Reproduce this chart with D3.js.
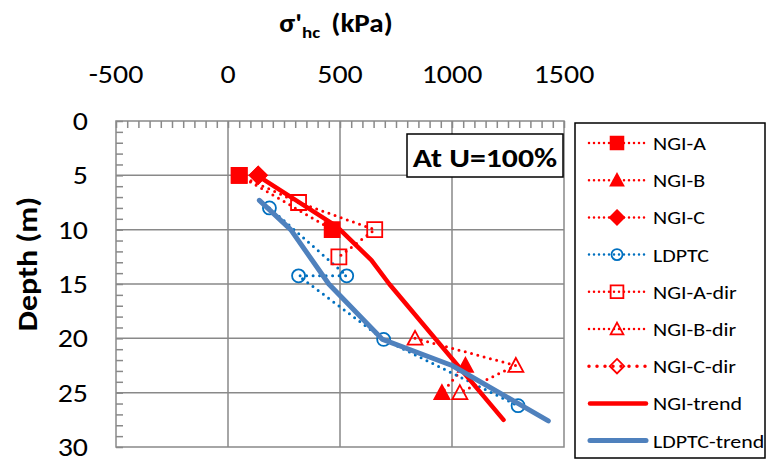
<!DOCTYPE html>
<html><head><meta charset="utf-8">
<script src="https://cdn.jsdelivr.net/npm/d3@7"></script>
<style>
html,body{margin:0;padding:0;background:#fff;}
text{font-family:Carlito,Lato,"Open Sans",sans-serif;}
</style></head>
<body>
<svg id="chart" width="766" height="464"></svg>
<script>
// ---- data (kPa, depth m) ----
const xTicks = [-500, 0, 500, 1000, 1500];
const yTicks = [0, 5, 10, 15, 20, 25, 30];
const seriesNames = ["NGI-A","NGI-B","NGI-C","LDPTC","NGI-A-dir","NGI-B-dir","NGI-C-dir","NGI-trend","LDPTC-trend"];
const ngiA = [[50,5],[465,10]];
const ngiB = [[1060,22.5],[955,25]];
const ngiC = [[135,5]];
const ldptc = [[185,8],[530,14.25],[315,14.25],[695,20.1],[1295,26.2]];
const ngiADir = [[50,5],[315,7.5],[655,10],[495,12.5]];
const ngiBDir = [[835,20],[1285,22.5],[1035,25]];
const ngiCDir = [[135,5]];
const ngiTrend = [[130,5],[485,9.7],[640,12.8],[720,15],[1230,27.5]];
const ldptcTrend = [[140,7.3],[280,10],[450,15],[690,20.1],[1000,22.5],[1430,27.6]];

const RED = "#ff0000", BLUE = "#0070c0", STEEL = "#4f81bd", GRID = "#898989";

const svg = d3.select("#chart");
const x = d3.scaleLinear().domain([-500,1500]).range([116,564]);
const y = d3.scaleLinear().domain([0,30]).range([121,447]);

// text helper with horizontal stretch
function txt(parent, px, py, str, size, anchor, weight, sx){
  return parent.append("text").attr("transform",`translate(${px},${py}) scale(${sx||1},1)`)
    .attr("text-anchor",anchor||"start").attr("font-size",size).attr("font-weight",weight||"normal").text(str);
}

// gridlines
const g = svg.append("g");
g.selectAll(".vg").data(xTicks.slice(1,-1)).enter().append("line")
  .attr("x1",d=>x(d)).attr("x2",d=>x(d)).attr("y1",y(0)).attr("y2",y(30))
  .attr("stroke",GRID).attr("stroke-width",1.5);
g.selectAll(".hg").data(yTicks.slice(1,-1)).enter().append("line")
  .attr("x1",x(-500)).attr("x2",x(1500)).attr("y1",d=>y(d)).attr("y2",d=>y(d))
  .attr("stroke",GRID).attr("stroke-width",1.5);

// axes (top x axis, left y axis) with inward minor ticks
const xMinor = d3.range(-500,1501,50);
const yMinor = d3.range(0,31,1);
const xAxis = d3.axisTop(x).tickValues(xMinor).tickSize(-7).tickFormat("");
const yAxis = d3.axisLeft(y).tickValues(yMinor).tickSize(-7).tickFormat("");
const xa = svg.append("g").attr("transform",`translate(0,${y(0)})`).call(xAxis);
const ya = svg.append("g").attr("transform",`translate(${x(-500)},0)`).call(yAxis);
[xa,ya].forEach(a=>{a.selectAll("line").attr("stroke",GRID).attr("stroke-width",1.5);a.select(".domain").remove();});
svg.append("rect").attr("x",x(-500)).attr("y",y(0)).attr("width",x(1500)-x(-500)).attr("height",y(30)-y(0))
  .attr("fill","none").attr("stroke",GRID).attr("stroke-width",1.5);

// tick labels
xTicks.forEach(d=>txt(svg, x(d), 83, d, 26, "middle", "normal", 1.15));
yTicks.forEach(d=>txt(svg, 88, y(d)+9, d, 26, "end", "normal", 1.15));

// axis titles
const t = svg.append("text").attr("transform","translate(336,32) scale(1.12,1)").attr("text-anchor","middle")
  .attr("font-size",26).attr("font-weight","bold");
t.append("tspan").text("σ'");
t.append("tspan").attr("font-size",17).attr("dy",6).text("hc");
t.append("tspan").attr("dy",-6).attr("dx",10).text("(kPa)");
svg.append("text").attr("transform","translate(37,264) rotate(-90) scale(1.1,1)").attr("text-anchor","middle")
  .attr("font-size",29).attr("font-weight","bold").text("Depth (m)");

// marker drawing
function marker(sel, type, cx, cy, color, filled, scale){
  const s = scale||1;
  let p;
  if(type==="square"){const h=7.5*s;p=`M${cx-h},${cy-h}H${cx+h}V${cy+h}H${cx-h}Z`;}
  else if(type==="triangle"){const w=7.5*s,h=7.5*s;p=`M${cx},${cy-h}L${cx+w},${cy+h*0.85}L${cx-w},${cy+h*0.85}Z`;}
  else if(type==="diamond"){const h=8.5*s;p=`M${cx},${cy-h}L${cx+h},${cy}L${cx},${cy+h}L${cx-h},${cy}Z`;}
  if(type==="circle"){
    sel.append("circle").attr("cx",cx).attr("cy",cy).attr("r",6.5*s)
      .attr("fill",filled?color:"none").attr("stroke",color).attr("stroke-width",1.8);
  } else {
    sel.append("path").attr("d",p).attr("fill",filled?color:"none").attr("stroke",color).attr("stroke-width",1.8)
      .attr("stroke-linejoin","miter");
  }
}

const line = d3.line().x(d=>x(d[0])).y(d=>y(d[1]));
const series = [
  {data:ngiA, color:RED, m:"square", filled:true},
  {data:ngiB, color:RED, m:"triangle", filled:true},
  {data:ngiC, color:RED, m:"diamond", filled:true},
  {data:ldptc, color:BLUE, m:"circle", filled:false},
  {data:ngiADir, color:RED, m:"square", filled:false},
  {data:ngiBDir, color:RED, m:"triangle", filled:false},
  {data:ngiCDir, color:RED, m:"diamond", filled:false, big:true},
  {data:ngiTrend, color:RED, m:null, width:4.5},
  {data:ldptcTrend, color:STEEL, m:null, width:5}
];
const plot = svg.append("g");
series.forEach(s=>{
  const gg = plot.append("g");
  if(s.m){
    gg.append("path").datum(s.data).attr("d",line).attr("fill","none").attr("stroke",s.color)
      .attr("stroke-width",3).attr("stroke-linecap","round").attr("stroke-dasharray","0 6.5");
    s.data.forEach(d=>marker(gg,s.m,x(d[0]),y(d[1]),s.color,s.filled,1));
  } else {
    gg.append("path").datum(s.data).attr("d",line).attr("fill","none").attr("stroke",s.color)
      .attr("stroke-width",s.width).attr("stroke-linecap","round").attr("stroke-linejoin","round");
  }
});

// annotation box
svg.append("rect").attr("x",407).attr("y",134).attr("width",156).attr("height",43)
  .attr("fill","#fff").attr("stroke","#000").attr("stroke-width",1.5);
txt(svg, 485, 167, "At U=100%", 26, "middle", "bold", 1.22);

// legend
svg.append("rect").attr("x",575).attr("y",123).attr("width",190).attr("height",335)
  .attr("fill","#fff").attr("stroke","#000").attr("stroke-width",1.5);
series.forEach((s,i)=>{
  const cy = 143 + i*37.2;
  const lg = svg.append("g");
  if(s.m){
    lg.append("line").attr("x1",589).attr("x2",647).attr("y1",cy).attr("y2",cy)
      .attr("stroke",s.color).attr("stroke-width",s.big?3.5:2.5).attr("stroke-linecap","round")
      .attr("stroke-dasharray",s.big?"0 8":"0 5");
    marker(lg,s.m,617,cy,s.color,s.filled,0.85);
  } else {
    lg.append("line").attr("x1",590).attr("x2",646).attr("y1",cy).attr("y2",cy)
      .attr("stroke",s.color).attr("stroke-width",s.width).attr("stroke-linecap","round");
  }
  txt(lg, 653, cy+7, seriesNames[i], 18, "start", "normal", 1.22);
});
</script>
</body></html>
